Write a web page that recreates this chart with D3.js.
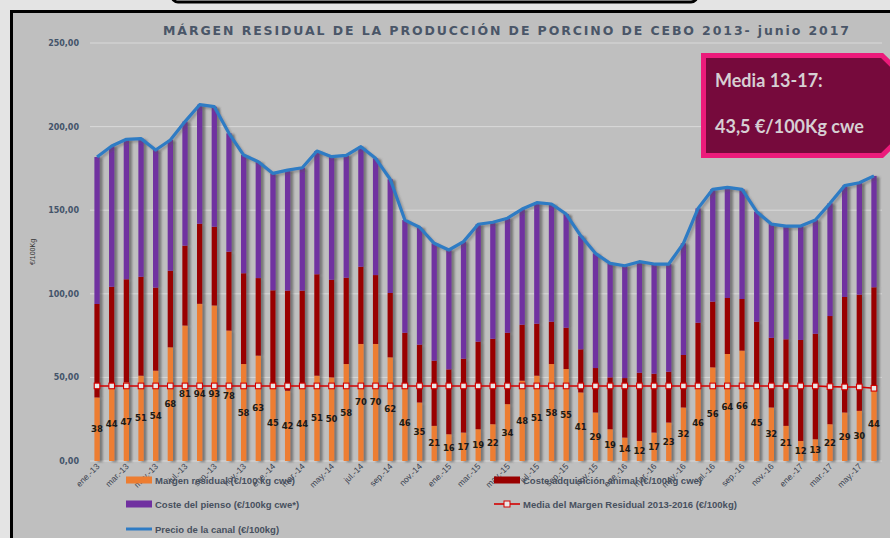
<!DOCTYPE html>
<html><head><meta charset="utf-8">
<script src="https://cdn.jsdelivr.net/npm/d3@7"></script>
<style>
html,body{margin:0;padding:0;background:#e4e4e4;}
svg{display:block;}
</style></head>
<body>
<svg id="chart" width="890" height="538"></svg>
<script>
const categories = ["ene.-13","feb.-13","mar.-13","abr.-13","may.-13","jun.-13","jul.-13","ago.-13","sep.-13","oct.-13","nov.-13","dic.-13",
"ene.-14","feb.-14","mar.-14","abr.-14","may.-14","jun.-14","jul.-14","ago.-14","sep.-14","oct.-14","nov.-14","dic.-14",
"ene.-15","feb.-15","mar.-15","abr.-15","may.-15","jun.-15","jul.-15","ago.-15","sep.-15","oct.-15","nov.-15","dic.-15",
"ene.-16","feb.-16","mar.-16","abr.-16","may.-16","jun.-16","jul.-16","ago.-16","sep.-16","oct.-16","nov.-16","dic.-16",
"ene.-17","feb.-17","mar.-17","abr.-17","may.-17","jun.-17"];
const margen = [38,44,47,51,54,68,81,94,93,78,58,63,45,42,44,51,50,58,70,70,62,46,35,21,16,17,19,22,34,48,51,58,55,41,29,19,14,12,17,23,32,46,56,64,66,45,32,21,12,13,22,29,30,44];
const costeAnimal = [55.9,60.2,61.7,59.2,49.7,45.8,47.8,47.9,47.1,47.2,54.3,46.4,57.1,59.9,57.9,60.7,58.4,51.6,46.2,41.2,38.5,30.7,34.6,39.0,38.8,44.2,52.4,51.1,42.7,33.5,31.1,25.3,24.7,25.8,26.6,31.0,35.6,40.8,35.2,30.4,31.4,36.7,39.3,33.5,30.9,38.3,41.7,51.8,60.4,63.1,64.7,69.1,69.5,59.9];
const costePienso = [87.9,84.2,83.7,82.6,82.3,78.2,74.2,71.2,71.8,70.8,70.7,69.6,69.9,72.1,73.5,73.7,73.6,73.2,71.8,69.8,68.0,67.4,70.2,70.2,71.4,70.0,70.2,69.7,68.5,69.2,72.4,70.4,68.0,67.9,68.6,68.2,67.2,66.4,65.6,64.4,66.8,68.4,67.2,66.2,65.6,65.8,68.0,67.7,68.1,68.0,67.4,66.6,66.9,66.6];
const precioCanal = [181.8,188.4,192.4,192.8,186.0,192.0,203.0,213.1,211.9,196.0,183.0,179.0,172.0,174.0,175.4,185.4,182.0,182.8,188.0,181.0,168.5,144.1,139.8,130.2,126.2,131.2,141.6,142.8,145.2,150.7,154.5,153.7,147.7,134.7,124.2,118.2,116.8,119.2,117.8,117.8,130.2,151.1,162.5,163.7,162.5,149.1,141.7,140.5,140.5,144.1,154.1,164.7,166.4,170.5];
const mediaMargen = [44.9,44.9,44.9,44.9,44.9,44.9,44.9,44.9,44.9,44.9,44.9,44.9,44.9,44.9,44.9,44.9,44.9,44.9,44.9,44.9,44.9,44.9,44.9,44.9,44.9,44.9,44.9,44.9,44.9,44.9,44.9,44.9,44.9,44.9,44.9,44.9,44.9,44.9,44.9,44.9,44.9,44.9,44.9,44.9,44.9,44.9,44.9,44.9,44.9,44.9,44.5,44.3,44.3,43.5];
const yTicks = [0,50,100,150,200,250];
const seriesNames = ["Margen residual (€/100 kg cwe)","Coste adquisición animal (€/100kg cwe)","Coste del pienso (€/100kg cwe*)","Media del Margen Residual 2013-2016 (€/100kg)","Precio de la canal (€/100kg)"];
const titleText = "MÁRGEN RESIDUAL DE LA PRODUCCIÓN DE PORCINO DE CEBO 2013- junio 2017";
const boxLines = ["Media 13-17:","43,5 €/100Kg cwe"];

const colors = {margen:"#ed7d31", animal:"#990000", pienso:"#7030a0", media:"#d40000", precio:"#2e7bc4"};

const svg = d3.select("#chart");
const defs = svg.append("defs");
const f = defs.append("filter").attr("id","shadow").attr("x","-50%").attr("y","-10%").attr("width","250%").attr("height","130%");
f.append("feDropShadow").attr("dx",3).attr("dy",1).attr("stdDeviation",1.3).attr("flood-color","#4a4a4a").attr("flood-opacity",0.6);
const f2 = defs.append("filter").attr("id","lshadow").attr("x","-5%").attr("y","-20%").attr("width","110%").attr("height","140%");
f2.append("feDropShadow").attr("dx",2).attr("dy",2).attr("stdDeviation",1.2).attr("flood-color","#555").attr("flood-opacity",0.4);

// background frames
svg.append("rect").attr("x",0).attr("y",0).attr("width",890).attr("height",538).attr("fill","#e4e4e4");
svg.append("rect").attr("x",172).attr("y",-30).attr("width",525).attr("height",32).attr("rx",6).attr("fill","#f2f2f2").attr("stroke","#000").attr("stroke-width",3);
svg.append("rect").attr("x",11.5).attr("y",11.5).attr("width",900).attr("height",560).attr("fill","#bfbfbf").attr("stroke","#000").attr("stroke-width",3);

const rows = categories.map((c,i)=>({cat:c, margen:margen[i], animal:costeAnimal[i], pienso:costePienso[i]}));
const stack = d3.stack().keys(["margen","animal","pienso"])(rows);

const x = d3.scaleBand().domain(categories).range([89.7,881.3]).paddingInner(0).paddingOuter(0);
const y = d3.scaleLinear().domain([0,250]).range([461,43]);
const bw = x.step()*0.36;
const cx = c => x(c) + x.bandwidth()/2;

// gridlines
svg.append("g").selectAll("line").data(yTicks).join("line")
  .attr("x1",90).attr("x2",882).attr("y1",d=>y(d)).attr("y2",d=>y(d))
  .attr("stroke","#d9d9d9").attr("stroke-width",1);

// y axis labels
const yAxis = d3.axisLeft(y).tickValues(yTicks).tickSize(0).tickPadding(0)
  .tickFormat(d=>d3.format(".2f")(d).replace(".",","));
const yg = svg.append("g").attr("transform","translate(79,0)").call(yAxis);
yg.select(".domain").remove();
yg.selectAll("text").attr("font-family","'DejaVu Sans',sans-serif").attr("font-size","8px").attr("font-weight","bold").attr("fill","#44546a");

svg.append("text").attr("transform","translate(35,252) rotate(-90)").attr("text-anchor","middle")
  .attr("font-family","'Liberation Sans',sans-serif").attr("font-size","7px").attr("fill","#333").text("€/100Kg");

// title
svg.append("text").attr("x",163).attr("y",35).attr("textLength",686).attr("lengthAdjust","spacing")
  .attr("font-family","'DejaVu Sans',sans-serif").attr("font-size","12.5px").attr("font-weight","bold").attr("fill","#4a5668")
  .text(titleText);

// bars
const keyColor = {margen:colors.margen, animal:colors.animal, pienso:colors.pienso};
const barG = svg.append("g").attr("filter","url(#shadow)");
stack.forEach(s=>{
  barG.append("g").attr("fill",keyColor[s.key]).selectAll("rect").data(s).join("rect")
    .attr("x",d=>cx(d.data.cat)-bw/2).attr("width",bw)
    .attr("y",d=>y(d[1])).attr("height",d=>y(d[0])-y(d[1]));
});

// price line
const line = d3.line().x((d,i)=>cx(categories[i])).y(d=>y(d));
svg.append("path").datum(precioCanal).attr("d",line).attr("fill","none")
  .attr("stroke",colors.precio).attr("stroke-width",3.2).attr("stroke-linejoin","round").attr("filter","url(#lshadow)");

// media line
svg.append("path").datum(mediaMargen).attr("d",line).attr("fill","none").attr("stroke",colors.media).attr("stroke-width",1.6);
svg.append("g").selectAll("rect").data(mediaMargen).join("rect")
  .attr("x",(d,i)=>cx(categories[i])-2.8).attr("y",d=>y(d)-2.8).attr("width",5.6).attr("height",5.6)
  .attr("fill","#e8e8e8").attr("stroke",colors.media).attr("stroke-width",1.1);

// data labels
svg.append("g").selectAll("text").data(margen).join("text")
  .attr("x",(d,i)=>cx(categories[i])).attr("y",(d,i)=>Math.max(y(d/2), y(mediaMargen[i])+8))
  .attr("text-anchor","middle").attr("dominant-baseline","central")
  .attr("font-family","'DejaVu Sans',sans-serif").attr("font-size","8.5px").attr("font-weight","bold").attr("fill","#1a1a1a")
  .text(d=>d);

// x axis labels
const xTickVals = categories.filter((c,i)=>i%2===0);
svg.append("g").selectAll("text").data(xTickVals).join("text")
  .attr("transform",d=>`translate(${cx(d)+3},${467}) rotate(-45)`)
  .attr("text-anchor","end").attr("font-family","'Liberation Sans',sans-serif").attr("font-size","8.5px").attr("fill","#3a4250")
  .text(d=>d);

// legend
const lg = svg.append("g").attr("font-family","'Liberation Sans',sans-serif").attr("font-size","9.5px").attr("font-weight","bold").attr("fill","#47505e");
const legendItems = [
  {name:seriesNames[0], type:"rect", color:colors.margen, lx:126, ly:480},
  {name:seriesNames[1], type:"rect", color:colors.animal, lx:494, ly:480},
  {name:seriesNames[2], type:"rect", color:colors.pienso, lx:126, ly:504},
  {name:seriesNames[3], type:"marker", color:colors.media, lx:494, ly:504},
  {name:seriesNames[4], type:"line", color:colors.precio, lx:126, ly:529}
];
legendItems.forEach(it=>{
  if(it.type==="rect"){
    lg.append("rect").attr("x",it.lx).attr("y",it.ly-3.5).attr("width",26).attr("height",7).attr("fill",it.color);
  } else if(it.type==="line"){
    lg.append("line").attr("x1",it.lx).attr("x2",it.lx+26).attr("y1",it.ly).attr("y2",it.ly).attr("stroke",it.color).attr("stroke-width",3);
  } else {
    lg.append("line").attr("x1",it.lx).attr("x2",it.lx+26).attr("y1",it.ly).attr("y2",it.ly).attr("stroke",it.color).attr("stroke-width",1.6);
    lg.append("rect").attr("x",it.lx+10).attr("y",it.ly-3).attr("width",6).attr("height",6).attr("fill","#e8e8e8").attr("stroke",it.color).attr("stroke-width",1);
  }
  lg.append("text").attr("x",it.lx+29).attr("y",it.ly).attr("dominant-baseline","central").text(it.name);
});

// media box
svg.append("path").attr("d","M703.5,55.5 L882,55.5 L894,67 L894,144 L882,155.5 L703.5,155.5 Z")
  .attr("fill","#760a3c").attr("stroke","#ec1b7b").attr("stroke-width",5);
svg.append("g").selectAll("text").data(boxLines).join("text")
  .attr("x",715).attr("y",(d,i)=>87+i*46)
  .attr("font-family","Lato,'Open Sans',sans-serif").attr("font-size","18px").attr("font-weight","bold").attr("fill","#d6cfd3")
  .text(d=>d);
</script>
</body></html>
